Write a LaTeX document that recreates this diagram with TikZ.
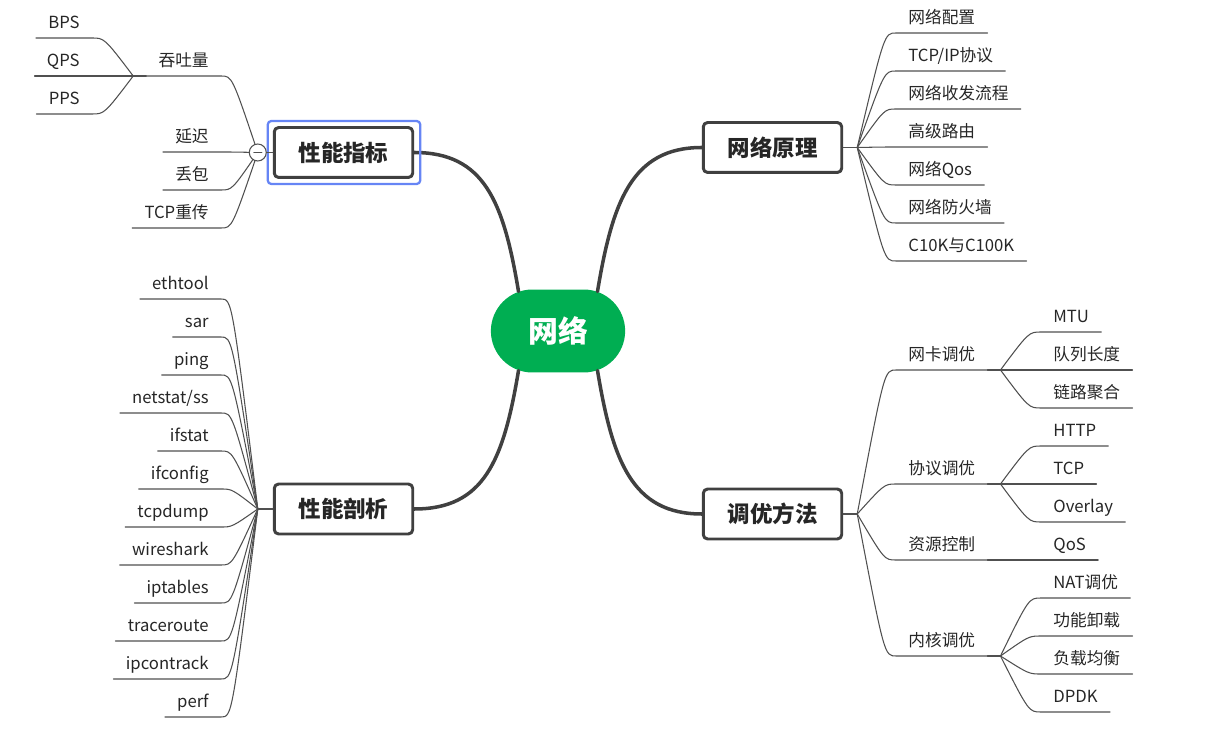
\documentclass[tikz,border=0pt]{standalone}
\usepackage{fontspec}
\setmainfont{Noto Sans CJK SC}
\usetikzlibrary{calc,shapes.misc}
\definecolor{xgreen}{RGB}{0,174,82}
\definecolor{xdark}{RGB}{64,64,64}
\definecolor{xline}{RGB}{80,80,80}
\definecolor{xtext}{RGB}{38,38,38}
\definecolor{xblue}{RGB}{102,133,245}
\tikzset{
  root/.style={rounded rectangle, fill=xgreen, text=white, font=\bfseries\fontsize{17}{20}\selectfont, minimum width=2.92cm, minimum height=1.66cm},
  topic/.style={draw=xdark, line width=1.7pt, rounded corners=2.5pt, fill=white, text=xtext, font=\bfseries\fontsize{12.8}{15}\selectfont, minimum width=2.77cm, minimum height=1.0cm},
  leaf/.style={inner xsep=0.24cm, inner ysep=0.1cm, text depth=0.08cm, text=xtext, font=\fontsize{9.5}{11}\selectfont},
  rleaf/.style={leaf, anchor=south west},
  lleaf/.style={leaf, anchor=south east},
  trunk/.style={draw=xdark, line width=2pt},
  xl/.style={draw=xline, line width=0.6pt},
  branch/.style={to path={let \p1=(\tikztostart), \p2=(\tikztotarget) in .. controls ({\x1+0.7*(\x2-\x1)},\y2) .. (\tikztotarget)}},
  fold/.style={circle, draw=xline, fill=white, line width=0.6pt, minimum size=0.34cm, inner sep=0pt},
  sel/.style={draw=xblue, line width=1.3pt, rounded corners=2pt}
}
\begin{document}
\begin{tikzpicture}[x=0.02cm,y=-0.02cm,line cap=round,line join=round]
\useasboundingbox (0,0) rectangle (1212,742);
% centre and main topics
\node[root] (net) at (558,331) {网络};
\node[topic] (kpi) at (343.5,152.5) {性能指标};
\node[topic] (theory) at (772.5,147.5) {网络原理};
\node[topic] (prof) at (343.5,509) {性能剖析};
\node[topic] (tune) at (772.5,514) {调优方法};
\draw[trunk] (net.135) .. controls +(-15,-90) and +(70,0) .. (kpi.east);
\draw[trunk] (net.45) .. controls +(15,-90) and +(-70,0) .. (theory.west);
\draw[trunk] (net.225) .. controls +(-15,90) and +(70,0) .. (prof.east);
\draw[trunk] (net.315) .. controls +(15,90) and +(-70,0) .. (tune.west);
\draw[sel] ($(kpi.north west)+(-5,-5)$) rectangle ($(kpi.south east)+(6,5)$);

% 网络原理
\coordinate (tbp) at ($(theory.east)+(14,0)$);
\node[rleaf] (th1) at (896,33) {网络配置};
\node[rleaf] (th2) at (896,71) {TCP/IP协议};
\node[rleaf] (th3) at (896,109) {网络收发流程};
\node[rleaf] (th4) at (896,147) {高级路由};
\node[rleaf] (th5) at (896,185) {网络Qos};
\node[rleaf] (th6) at (896,223) {网络防火墙};
\node[rleaf] (th7) at (896,261) {C10K与C100K};
\draw[xl] (theory.east) -- (tbp);
\draw[xl] (tbp) to[branch] (th1.south west) -- (th1.south east);
\draw[xl] (tbp) to[branch] (th2.south west) -- (th2.south east);
\draw[xl] (tbp) to[branch] (th3.south west) -- (th3.south east);
\draw[xl] (tbp) to[branch] (th4.south west) -- (th4.south east);
\draw[xl] (tbp) to[branch] (th5.south west) -- (th5.south east);
\draw[xl] (tbp) to[branch] (th6.south west) -- (th6.south east);
\draw[xl] (tbp) to[branch] (th7.south west) -- (th7.south east);

% 调优方法
\coordinate (ubp) at ($(tune.east)+(14,0)$);
\node[rleaf] (nic) at (896,370) {网卡调优};
\node[rleaf] (proto) at (896,484) {协议调优};
\node[rleaf] (res) at (896,560) {资源控制};
\node[rleaf] (kern) at (896,656) {内核调优};
\draw[xl] (tune.east) -- (ubp);
\draw[xl] (ubp) to[branch] (nic.south west) -- (nic.south east);
\draw[xl] (ubp) to[branch] (proto.south west) -- (proto.south east);
\draw[xl] (ubp) to[branch] (res.south west) -- (res.south east);
\draw[xl] (ubp) to[branch] (kern.south west) -- (kern.south east);
\coordinate (nbp) at ($(nic.south east)+(13,0)$);
\coordinate (pbp) at ($(proto.south east)+(13,0)$);
\coordinate (kbp) at ($(kern.south east)+(13,0)$);
\node[rleaf] (mtu) at (1041,332) {MTU};
\node[rleaf] (qlen) at (1041,370) {队列长度};
\node[rleaf] (bond) at (1041,408) {链路聚合};
\node[rleaf] (http) at (1041,446) {HTTP};
\node[rleaf] (tcp) at (1041,484) {TCP};
\node[rleaf] (ovl) at (1041,522) {Overlay};
\node[rleaf] (qos) at (1041,560) {QoS};
\node[rleaf] (nat) at (1041,598) {NAT调优};
\node[rleaf] (offl) at (1041,636) {功能卸载};
\node[rleaf] (lb) at (1041,674) {负载均衡};
\node[rleaf] (dpdk) at (1041,712) {DPDK};
\draw[xl] (nic.south east) -- (nbp) (proto.south east) -- (pbp) (kern.south east) -- (kbp);
\draw[xl] (nbp) to[branch] (mtu.south west) -- (mtu.south east);
\draw[xl] (nbp) to[branch] (qlen.south west) -- (qlen.south east);
\draw[xl] (nbp) to[branch] (bond.south west) -- (bond.south east);
\draw[xl] (pbp) to[branch] (http.south west) -- (http.south east);
\draw[xl] (pbp) to[branch] (tcp.south west) -- (tcp.south east);
\draw[xl] (pbp) to[branch] (ovl.south west) -- (ovl.south east);
\draw[xl] (res.south east) -- (qos.south east);
\draw[xl] (kbp) to[branch] (nat.south west) -- (nat.south east);
\draw[xl] (kbp) to[branch] (offl.south west) -- (offl.south east);
\draw[xl] (kbp) to[branch] (lb.south west) -- (lb.south east);
\draw[xl] (kbp) to[branch] (dpdk.south west) -- (dpdk.south east);

% 性能指标
\coordinate (ibp) at ($(kpi.west)+(-15,0)$);
\node[lleaf] (tput) at (221,76) {吞吐量};
\node[lleaf] (lat) at (221,152) {延迟};
\node[lleaf] (loss) at (221,190) {丢包};
\node[lleaf] (retx) at (221,228) {TCP重传};
\draw[xl] (kpi.west) -- (ibp);
\draw[xl] (ibp) to[branch] (tput.south east) -- (tput.south west);
\draw[xl] (ibp) to[branch] (lat.south east) -- (lat.south west);
\draw[xl] (ibp) to[branch] (loss.south east) -- (loss.south west);
\draw[xl] (ibp) to[branch] (retx.south east) -- (retx.south west);
\coordinate (gbp) at ($(tput.south west)+(-13,0)$);
\node[lleaf] (bps) at (92,38) {BPS};
\node[lleaf] (qps) at (92,76) {QPS};
\node[lleaf] (pps) at (92,114) {PPS};
\draw[xl] (tput.south west) -- (gbp);
\draw[xl] (gbp) to[branch] (bps.south east) -- (bps.south west);
\draw[xl] (gbp) to[branch] (qps.south east) -- (qps.south west);
\draw[xl] (gbp) to[branch] (pps.south east) -- (pps.south west);
\node[fold] (fold) at (ibp) {};
\draw[xl] ($(fold.center)+(-4,0)$) -- ($(fold.center)+(4,0)$);

% 性能剖析
\coordinate (fbp) at ($(prof.west)+(-15,0)$);
\node[lleaf] (f1) at (221,299) {ethtool};
\node[lleaf] (f2) at (221,337) {sar};
\node[lleaf] (f3) at (221,375) {ping};
\node[lleaf] (f4) at (221,413) {netstat/ss};
\node[lleaf] (f5) at (221,451) {ifstat};
\node[lleaf] (f6) at (221,489) {ifconfig};
\node[lleaf] (f7) at (221,527) {tcpdump};
\node[lleaf] (f8) at (221,565) {wireshark};
\node[lleaf] (f9) at (221,603) {iptables};
\node[lleaf] (f10) at (221,641) {traceroute};
\node[lleaf] (f11) at (221,679) {ipcontrack};
\node[lleaf] (f12) at (221,717) {perf};
\draw[xl] (prof.west) -- (fbp);
\draw[xl] (fbp) to[branch] (f1.south east) -- (f1.south west);
\draw[xl] (fbp) to[branch] (f2.south east) -- (f2.south west);
\draw[xl] (fbp) to[branch] (f3.south east) -- (f3.south west);
\draw[xl] (fbp) to[branch] (f4.south east) -- (f4.south west);
\draw[xl] (fbp) to[branch] (f5.south east) -- (f5.south west);
\draw[xl] (fbp) to[branch] (f6.south east) -- (f6.south west);
\draw[xl] (fbp) to[branch] (f7.south east) -- (f7.south west);
\draw[xl] (fbp) to[branch] (f8.south east) -- (f8.south west);
\draw[xl] (fbp) to[branch] (f9.south east) -- (f9.south west);
\draw[xl] (fbp) to[branch] (f10.south east) -- (f10.south west);
\draw[xl] (fbp) to[branch] (f11.south east) -- (f11.south west);
\draw[xl] (fbp) to[branch] (f12.south east) -- (f12.south west);
\end{tikzpicture}
\end{document}
